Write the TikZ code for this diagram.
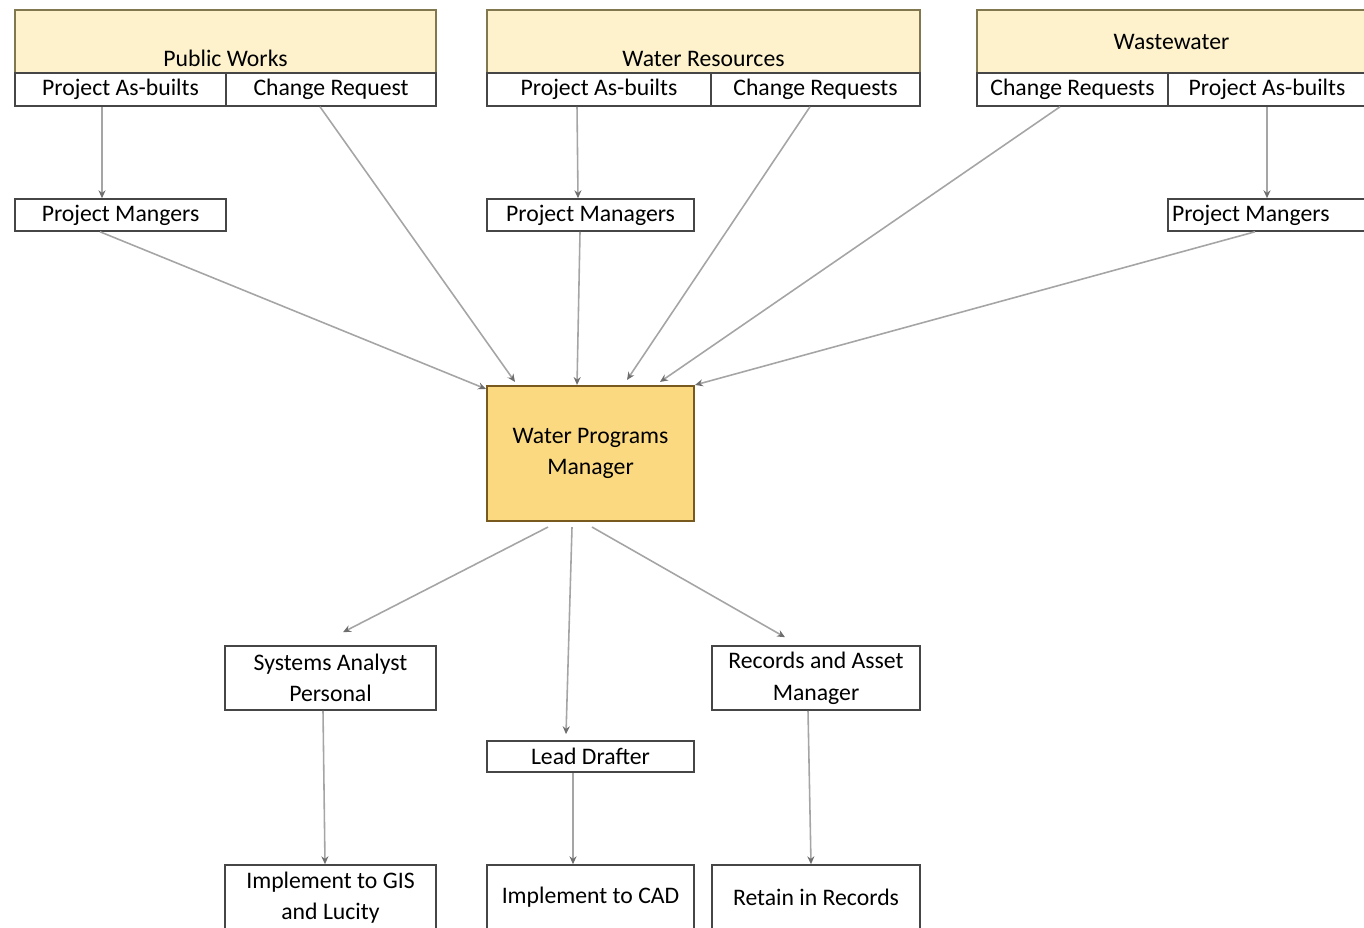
\documentclass[tikz,border=0pt]{standalone}
\usepackage{fontspec}
\setmainfont{Carlito}
\definecolor{hdryellow}{RGB}{253,242,204}
\definecolor{mgrgold}{RGB}{250,217,128}
\definecolor{mgrbrown}{RGB}{120,90,30}
\definecolor{hdrline}{RGB}{130,120,80}
\definecolor{boxline}{RGB}{70,70,70}
\definecolor{flowgray}{RGB}{165,165,165}
\definecolor{tipgray}{RGB}{110,110,110}
\usetikzlibrary{arrows.meta,positioning}

\begin{document}
\begin{tikzpicture}[x=0.02cm,y=-0.02cm,
  cell/.style={draw=boxline,line width=0.9pt,inner sep=0pt,minimum height=0.66cm,font=\fontsize{13.5}{16}\selectfont},
  hdr/.style={draw=hdrline,line width=1.2pt,fill=hdryellow,inner sep=0pt,minimum height=1.26cm,font=\fontsize{13.5}{16}\selectfont},
  role/.style={draw=boxline,line width=0.9pt,fill=white,inner sep=0pt,align=center,font=\fontsize{13.5}{16}\selectfont},
  mgr/.style={draw=mgrbrown,line width=1.2pt,fill=mgrgold,inner sep=0pt,align=center,minimum width=4.14cm,minimum height=2.7cm,font=\fontsize{13.5}{16}\selectfont},
  flow/.style={-{Stealth[length=4.5pt,width=4pt,color=tipgray]},flowgray,line width=0.9pt}]
  \clip (0,0) rectangle (1364,928);
  % Department headers
  \node[hdr,minimum width=8.42cm] (pw) at (225.5,41.5) {\raisebox{-0.5cm}[0pt][0pt]{Public Works}};
  \node[hdr,minimum width=8.66cm] (wr) at (703.5,41.5) {\raisebox{-0.5cm}[0pt][0pt]{Water Resources}};
  \node[hdr,minimum width=7.78cm] (ww) at (1171.5,41.5) {Wastewater};
  % Header cells
  \node[cell,minimum width=4.22cm] (pwab) at (120.5,89.5) {Project As-builts};
  \node[cell,minimum width=4.2cm] (pwcr) at (331,89.5) {Change Request};
  \node[cell,minimum width=4.48cm] (wrab) at (599,89.5) {Project As-builts};
  \node[cell,minimum width=4.18cm] (wrcr) at (815.5,89.5) {Change Requests};
  \node[cell,minimum width=3.82cm] (wwcr) at (1072.5,89.5) {Change Requests};
  \node[cell,minimum width=3.96cm] (wwab) at (1267,89.5) {Project As-builts};
  % Project managers
  \node[cell,minimum width=4.22cm,minimum height=0.64cm] (pml) at (120.5,215) {Project Mangers};
  \node[cell,minimum width=4.14cm,minimum height=0.64cm] (pmm) at (590.5,215) {Project Managers};
  \node[cell,minimum width=3.96cm,minimum height=0.64cm] (pmr) at (1267,215) {\makebox[3.8cm][l]{Project Mangers}};
  % Central manager
  \node[mgr] (wpm) at (590.5,453.5) {Water Programs\\[2pt]Manager};
  % Staff
  \node[role,minimum width=4.22cm,minimum height=1.28cm] (sap) at (330.5,678) {Systems Analyst\\[2pt]Personal};
  \node[role,minimum width=4.16cm,minimum height=1.28cm] (ram) at (816,678) {Records and Asset\\[2pt]Manager};
  \node[role,minimum width=4.14cm,minimum height=0.62cm] (ld) at (590.5,756.5) {Lead Drafter};
  % Outcomes
  \node[role,minimum width=4.22cm,minimum height=1.3cm] (gis) at (330.5,897.5) {Implement to GIS\\[2pt]and Lucity};
  \node[role,minimum width=4.14cm,minimum height=1.3cm] (cad) at (590.5,897.5) {Implement to CAD};
  \node[role,minimum width=4.16cm,minimum height=1.3cm] (ret) at (816,897.5) {Retain in Records};
  % Arrows into the manager
  \draw[flow] ([xshift=-0.37cm]pwab.south) -- ([xshift=-0.37cm]pml.north);
  \draw[flow] ([xshift=-0.41cm]pml.south) -- ([yshift=-0.08cm]wpm.north west);
  \draw[flow] ([xshift=-0.22cm]pwcr.south) -- ([xshift=-1.51cm,yshift=0.06cm]wpm.north);
  \draw[flow] ([xshift=-0.44cm]wrab.south) -- ([xshift=-0.25cm]pmm.north);
  \draw[flow] ([xshift=-0.21cm]pmm.south) -- ([xshift=-0.27cm]wpm.north);
  \draw[flow] ([xshift=-0.11cm]wrcr.south) -- ([xshift=0.73cm,yshift=0.1cm]wpm.north);
  \draw[flow] ([xshift=-0.25cm]wwcr.south) -- ([xshift=1.39cm,yshift=0.06cm]wpm.north);
  \draw[flow] (wwab.south) -- (pmr.north);
  \draw[flow] ([xshift=-0.24cm]pmr.south) -- (wpm.north east);
  % Arrows out of the manager
  \draw[flow] ([xshift=-0.85cm,yshift=-0.1cm]wpm.south) -- ([xshift=0.25cm,yshift=0.26cm]sap.north);
  \draw[flow] ([xshift=-0.37cm,yshift=-0.1cm]wpm.south) -- ([xshift=-0.49cm,yshift=0.12cm]ld.north);
  \draw[flow] ([xshift=0.03cm,yshift=-0.1cm]wpm.south) -- ([xshift=-0.62cm,yshift=0.16cm]ram.north);
  \draw[flow] ([xshift=-0.15cm]sap.south) -- ([xshift=-0.11cm]gis.north);
  \draw[flow] ([xshift=-0.35cm]ld.south) -- ([xshift=-0.35cm]cad.north);
  \draw[flow] ([xshift=-0.16cm]ram.south) -- ([xshift=-0.1cm]ret.north);
\end{tikzpicture}
\end{document}
